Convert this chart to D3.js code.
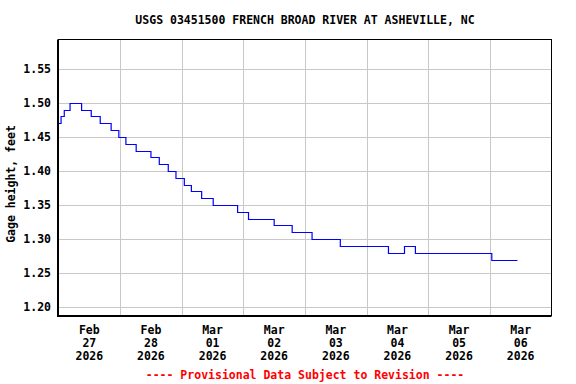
<!DOCTYPE html>
<html>
<head>
<meta charset="utf-8">
<script src="https://cdn.jsdelivr.net/npm/d3@7"></script>
<style>
  body { margin: 0; background: #fff; }
  svg text { font-family: "DejaVu Sans Mono", monospace; font-weight: bold; font-size: 11.5px; }
</style>
</head>
<body>
<script>
"use strict";

// change points of the gage height record (time, feet)
var times = [
    '2026-02-27 00:00', '2026-02-27 01:00', '2026-02-27 02:15', '2026-02-27 04:30',
    '2026-02-27 09:00', '2026-02-27 12:45', '2026-02-27 16:15', '2026-02-27 20:30',
    '2026-02-27 23:30', '2026-02-28 02:15', '2026-02-28 06:15', '2026-02-28 12:00',
    '2026-02-28 15:15', '2026-02-28 18:45', '2026-02-28 21:45', '2026-03-01 01:00',
    '2026-03-01 03:45', '2026-03-01 07:45', '2026-03-01 12:15', '2026-03-01 21:45',
    '2026-03-02 02:00', '2026-03-02 12:00', '2026-03-02 19:00', '2026-03-03 02:45',
    '2026-03-03 13:45', '2026-03-04 08:30', '2026-03-04 14:45', '2026-03-04 19:00',
    '2026-03-06 00:45', '2026-03-06 10:45'
];
var heights = [
    1.47, 1.48, 1.49, 1.50,
    1.49, 1.48, 1.47, 1.46,
    1.45, 1.44, 1.43, 1.42,
    1.41, 1.40, 1.39, 1.38,
    1.37, 1.36, 1.35, 1.34,
    1.33, 1.32, 1.31, 1.30,
    1.29, 1.28, 1.29, 1.28,
    1.27, 1.27
];

var y_ticks = [1.20, 1.25, 1.30, 1.35, 1.40, 1.45, 1.50, 1.55];
var day_labels = [
    ['Feb', '27', '2026'], ['Feb', '28', '2026'], ['Mar', '01', '2026'], ['Mar', '02', '2026'],
    ['Mar', '03', '2026'], ['Mar', '04', '2026'], ['Mar', '05', '2026'], ['Mar', '06', '2026']
];

var title = 'USGS 03451500 FRENCH BROAD RIVER AT ASHEVILLE, NC';
var y_title = 'Gage height, feet';
var footer = '---- Provisional Data Subject to Revision ----';

var width = 576;
var height = 384;

var plot_left = 58.5, plot_right = 551.5, plot_top = 39.5, plot_bottom = 315.5;

var parse = d3.timeParse('%Y-%m-%d %H:%M');

var start = parse('2026-02-27 00:00');
var end = parse('2026-03-07 00:00');

var x = d3.scaleTime().domain([start, end]).range([plot_left, plot_right]);
var y = d3.scaleLinear().domain([1.20, 1.55]).range([307.3, 68.7]);

var data = times.map(function(t, i) { return { t: parse(t), v: heights[i] }; });

var svg = d3.select('body').append('svg')
    .attr('width', width)
    .attr('height', height);

// grid
var days = d3.timeDay.range(d3.timeDay.offset(start, 1), end);

svg.append('g').selectAll('line')
    .data(y_ticks)
    .enter().append('line')
    .attr('x1', plot_left).attr('x2', plot_right)
    .attr('y1', function(d) { return Math.round(y(d)) + 0.5; })
    .attr('y2', function(d) { return Math.round(y(d)) + 0.5; })
    .attr('stroke', '#c8c8c8');

svg.append('g').selectAll('line')
    .data(days)
    .enter().append('line')
    .attr('x1', function(d) { return Math.round(x(d)) + 0.5; })
    .attr('x2', function(d) { return Math.round(x(d)) + 0.5; })
    .attr('y1', plot_top).attr('y2', plot_bottom)
    .attr('stroke', '#c8c8c8');

// series
var line = d3.line()
    .x(function(d) { return x(d.t); })
    .y(function(d) { return Math.round(y(d.v)) + 0.5; })
    .curve(d3.curveStepAfter);

svg.append('path')
    .datum(data)
    .attr('d', line)
    .attr('fill', 'none')
    .attr('stroke', '#0000ff')
    .attr('stroke-width', 1.2);

// frame
svg.append('rect')
    .attr('x', plot_left).attr('y', plot_top)
    .attr('width', plot_right - plot_left).attr('height', plot_bottom - plot_top)
    .attr('fill', 'none')
    .attr('stroke', '#000');
svg.append('line')
    .attr('x1', plot_left - 1).attr('x2', plot_left - 1)
    .attr('y1', plot_top).attr('y2', plot_bottom + 1.5)
    .attr('stroke', '#000');
svg.append('line')
    .attr('x1', plot_left - 1.5).attr('x2', plot_right)
    .attr('y1', plot_bottom + 1).attr('y2', plot_bottom + 1)
    .attr('stroke', '#000');

// y tick labels
svg.append('g').selectAll('text')
    .data(y_ticks)
    .enter().append('text')
    .attr('x', 51)
    .attr('y', function(d) { return y(d); })
    .attr('dy', '0.36em')
    .attr('text-anchor', 'end')
    .text(function(d) { return d3.format('.2f')(d); });

// x labels centred on noon of each day
var noon = d3.timeDay.range(start, end).map(function(d) { return d3.timeHour.offset(d, 12); });

var xl = svg.append('g').selectAll('text')
    .data(noon)
    .enter().append('text')
    .attr('text-anchor', 'middle')
    .attr('x', function(d) { return x(d); })
    .attr('y', 334);

xl.each(function(d, i) {
    var node = d3.select(this);
    day_labels[i].forEach(function(s, k) {
        node.append('tspan')
            .attr('x', x(d))
            .attr('y', 334 + k * 12.8)
            .text(s);
    });
});

// titles
svg.append('text')
    .attr('x', (plot_left + plot_right) / 2)
    .attr('y', 24)
    .attr('text-anchor', 'middle')
    .text(title);

svg.append('text')
    .attr('transform', 'translate(11,184) rotate(-90)')
    .attr('dy', '0.36em')
    .attr('text-anchor', 'middle')
    .text(y_title);

svg.append('text')
    .attr('x', (plot_left + plot_right) / 2)
    .attr('y', 379)
    .attr('text-anchor', 'middle')
    .attr('fill', '#ff0000')
    .text(footer);
</script>
</body>
</html>
